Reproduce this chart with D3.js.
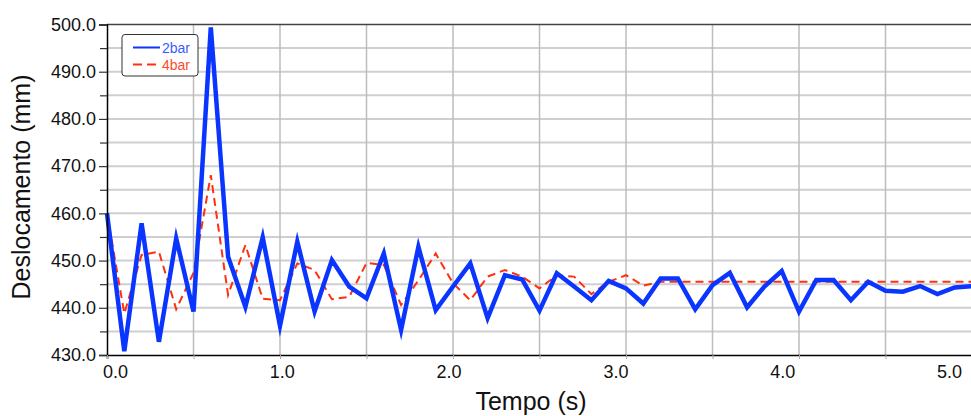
<!DOCTYPE html>
<html>
<head>
<meta charset="utf-8">
<script src="https://cdn.jsdelivr.net/npm/d3@7"></script>
<style>
  html, body { margin: 0; padding: 0; background: #fff; }
  svg { display: block; font-family: "Liberation Sans", Arial, sans-serif; }
</style>
</head>
<body>
<svg id="chart" width="971" height="416"></svg>
<script>
// tempo (s), every 0.1 s
const tempo = [0.0, 0.1, 0.2, 0.3, 0.4, 0.5, 0.6, 0.7, 0.8, 0.9,
  1.0, 1.1, 1.2, 1.3, 1.4, 1.5, 1.6, 1.7, 1.8, 1.9,
  2.0, 2.1, 2.2, 2.3, 2.4, 2.5, 2.6, 2.7, 2.8, 2.9,
  3.0, 3.1, 3.2, 3.3, 3.4, 3.5, 3.6, 3.7, 3.8, 3.9,
  4.0, 4.1, 4.2, 4.3, 4.4, 4.5, 4.6, 4.7, 4.8, 4.9, 5.0];

// deslocamento (mm) - 2bar
const bar2 = [460.0, 430.8, 457.9, 432.8, 454.7, 439.2, 499.4, 450.8, 440.2, 454.9,
  436.2, 454.0, 439.2, 450.1, 444.5, 442.0, 451.5, 435.3, 452.9, 439.5,
  444.5, 449.4, 437.8, 446.9, 446.0, 439.4, 447.3, 444.5, 441.6, 445.7,
  444.1, 440.9, 446.2, 446.2, 439.7, 444.8, 447.4, 440.1, 444.5, 447.8,
  439.2, 445.9, 445.9, 441.6, 445.5, 443.6, 443.4, 444.6, 442.9, 444.3, 444.6];

// deslocamento (mm) - 4bar
const bar4 = [460.0, 438.8, 451.2, 451.9, 439.7, 447.4, 468.1, 442.7, 453.3, 441.9,
  441.6, 449.4, 448.0, 441.8, 442.3, 449.5, 449.1, 440.6, 445.8, 451.5,
  445.2, 441.6, 446.6, 448.0, 446.6, 444.1, 446.9, 446.6, 442.9, 445.5,
  446.9, 444.7, 445.5, 445.5, 445.5, 445.5, 445.5, 445.5, 445.5, 445.5,
  445.5, 445.5, 445.5, 445.5, 445.5, 445.5, 445.5, 445.5, 445.5, 445.5, 445.5];

const xLabels = [0, 1, 2, 3, 4, 5];
const xGrid = [0.5, 1.0, 1.5, 2.0, 2.5, 3.0, 3.5, 4.0, 4.5, 5.0];
const yLabels = [430, 440, 450, 460, 470, 480, 490, 500];
const yMinor = [435, 445, 455, 465, 475, 485, 495];

const series = [
  { name: '2bar', values: bar2, color: '#0a35ff', text: '#3a5cff', width: 4.5, dash: null },
  { name: '4bar', values: bar4, color: '#ff3010', text: '#ff4a2a', width: 2, dash: '8,5' }
];

const svg = d3.select('#chart');
const margin = { top: 24.5, left: 107 };
const plotW = 865, plotH = 330.5;

const x = d3.scaleLinear().domain([0, 5]).range([0, plotW]);
// the tick labels sit on a slightly narrower scale than the grid
const xLab = d3.scaleLinear().domain([0, 5]).range([8, 842]);
const y = d3.scaleLinear().domain([430, 500]).range([plotH, 0]);

const g = svg.append('g').attr('transform', `translate(${margin.left},${margin.top})`);

// horizontal grid (every 5 mm)
g.append('g')
  .selectAll('line')
  .data(yLabels.concat(yMinor).filter(d => d > 430 && d < 500))
  .enter().append('line')
  .attr('x1', 0).attr('x2', plotW)
  .attr('y1', d => y(d)).attr('y2', d => y(d))
  .style('stroke', '#cfcfcf')
  .style('stroke-width', 2);

// vertical grid (every 0.5 s)
g.append('g')
  .selectAll('line')
  .data(xGrid)
  .enter().append('line')
  .attr('x1', d => x(d)).attr('x2', d => x(d))
  .attr('y1', 0).attr('y2', plotH)
  .style('stroke', '#bdbdbd')
  .style('stroke-width', 1.5);

// top border
g.append('line')
  .attr('x1', 0).attr('x2', plotW)
  .attr('y1', 0).attr('y2', 0)
  .style('stroke', '#444')
  .style('stroke-width', 1.5);

// lines
const line = d3.line()
  .x((d, i) => x(tempo[i]))
  .y(d => y(d));

// draw 4bar first? reference shows blue on top of red
series.slice().reverse().forEach(s => {
  g.append('path')
    .datum(s.values)
    .attr('d', line)
    .attr('fill', 'none')
    .attr('stroke', s.color)
    .attr('stroke-width', s.width)
    .attr('stroke-linejoin', 'miter')
    .attr('stroke-miterlimit', 6)
    .attr('stroke-dasharray', s.dash);
});

// y axis
const yAxis = g.append('g')
  .attr('class', 'axis axis--y')
  .call(d3.axisLeft(y).tickValues(yLabels).tickSize(8).tickPadding(3).tickFormat(d3.format('.1f')));
yAxis.select('.domain').style('stroke', '#000').style('stroke-width', 1.5);
yAxis.selectAll('line').style('stroke', '#333').style('stroke-width', 1.2);
yAxis.selectAll('text')
  .style('font-size', '18px')
  .style('fill', '#111')
  .style('font-family', '"Liberation Sans", Arial, sans-serif');

g.append('g')
  .call(d3.axisLeft(y).tickValues(yMinor).tickSize(7).tickFormat(''))
  .call(a => a.select('.domain').remove())
  .selectAll('line').style('stroke', '#333').style('stroke-width', 1.2);

// x axis
const xAxis = g.append('g')
  .attr('class', 'axis axis--x')
  .attr('transform', `translate(0,${plotH})`)
  .call(d3.axisBottom(x).tickValues([0].concat(xGrid)).tickSize(4).tickFormat(''));
xAxis.select('.domain').style('stroke', '#000').style('stroke-width', 1.5);
xAxis.selectAll('.tick line').style('stroke', '#aaa').style('stroke-width', 1);

const xLabAxis = g.append('g')
  .attr('transform', `translate(0,${plotH})`)
  .call(d3.axisBottom(xLab).tickValues(xLabels).tickSize(0).tickPadding(10).tickFormat(d3.format('.1f')));
xLabAxis.select('.domain').remove();
xLabAxis.selectAll('text')
  .style('font-size', '18px')
  .style('fill', '#111')
  .style('font-family', '"Liberation Sans", Arial, sans-serif');

// axis titles
svg.append('text')
  .attr('x', margin.left + 424)
  .attr('y', 410)
  .attr('text-anchor', 'middle')
  .style('font-size', '25px')
  .style('fill', '#111')
  .text('Tempo (s)');

svg.append('text')
  .attr('transform', 'translate(30,187) rotate(-90)')
  .attr('text-anchor', 'middle')
  .style('font-size', '25px')
  .style('fill', '#111')
  .text('Deslocamento (mm)');

// legend
const legend = svg.append('g').attr('transform', 'translate(122,34.5)');
legend.append('rect')
  .attr('x', 0).attr('y', 0)
  .attr('width', 76).attr('height', 41.5)
  .attr('rx', 3)
  .attr('fill', '#fff')
  .attr('stroke', '#333')
  .attr('stroke-width', 1);

series.forEach((s, i) => {
  const ly = 13 + i * 17;
  legend.append('line')
    .attr('x1', 11).attr('x2', 38)
    .attr('y1', ly).attr('y2', ly)
    .attr('stroke', s.color)
    .attr('stroke-width', 2)
    .attr('stroke-dasharray', s.dash ? '9,5' : null);
  legend.append('text')
    .attr('x', 40)
    .attr('y', ly + 5)
    .style('font-size', '14px')
    .style('fill', s.text)
    .text(s.name);
});
</script>
</body>
</html>
